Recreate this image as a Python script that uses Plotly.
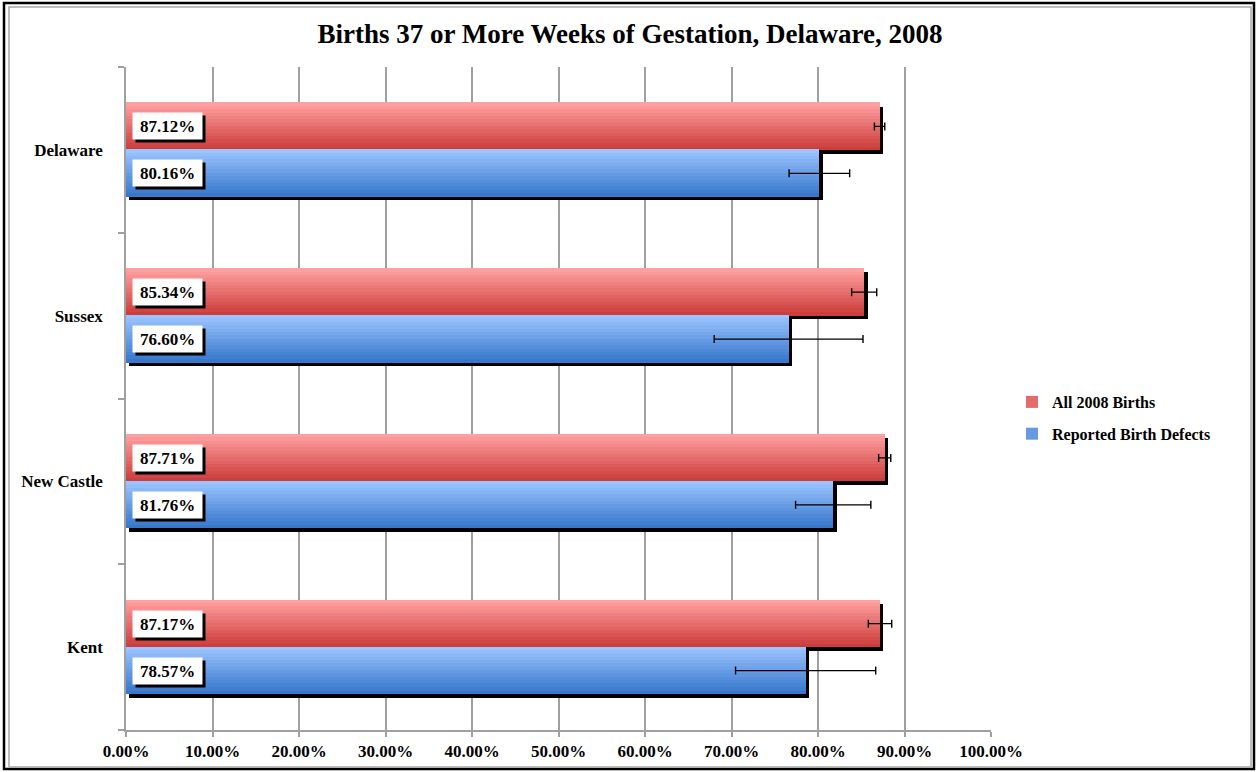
import plotly.graph_objects as go

# ---------------- data ----------------
categories = ["Kent", "New Castle", "Sussex", "Delaware"]
all_births = [87.17, 87.71, 85.34, 87.12]
birth_defects = [78.57, 81.76, 76.60, 80.16]
all_births_err = [1.35, 0.7, 1.45, 0.6]
birth_defects_err = [8.1, 4.35, 8.6, 3.5]
x_ticks = [0, 10, 20, 30, 40, 50, 60, 70, 80, 90, 100]
x_tick_labels = [f"{v:.2f}%" for v in x_ticks]
series_names = ["All 2008 Births", "Reported Birth Defects"]

# ---------------- style / layout constants ----------------
W, H = 1257, 772
L, R, T, B = 126, 266, 67, 42
PW, PH = W - L - R, H - T - B
FONT = "Liberation Serif"
BAR_W = 0.283
SH_DX = 0.40      # shadow offset in x units
SH_DY = 0.022     # shadow offset in y units
NSLICE = 14

red_top, red_bot = (255, 160, 160), (204, 62, 60)
blue_top, blue_bot = (156, 196, 255), (56, 120, 204)


def lerp(c1, c2, t):
    return "rgb(%d,%d,%d)" % tuple(round(a + (b - a) * t) for a, b in zip(c1, c2))


ypos = list(range(len(categories)))
fig = go.Figure()


def add_series(values, top_off, ctop, cbot, name, rank):
    n = len(values)
    # shadow
    fig.add_trace(go.Bar(
        y=ypos, x=values, base=[SH_DX] * n, orientation="h",
        offset=top_off - BAR_W - SH_DY, width=BAR_W,
        marker=dict(color="black", line=dict(width=0)),
        showlegend=False, hoverinfo="skip"))
    step = BAR_W / NSLICE
    for k in range(NSLICE):
        off = top_off - (k + 1) * step
        fig.add_trace(go.Bar(
            y=ypos, x=values, orientation="h",
            offset=off, width=step * 1.15 if k < NSLICE - 1 else step,
            marker=dict(color=lerp(ctop, cbot, k / (NSLICE - 1)), line=dict(width=0)),
            name=f"<b>{name}</b>", legendgroup=name, legendrank=rank,
            showlegend=(k == NSLICE // 2), hoverinfo="skip"))


add_series(all_births, BAR_W, red_top, red_bot, series_names[0], 1)
add_series(birth_defects, 0.0, blue_top, blue_bot, series_names[1], 2)

# error bars
for vals, errs, yoff in [(all_births, all_births_err, BAR_W / 2),
                         (birth_defects, birth_defects_err, -BAR_W / 2)]:
    fig.add_trace(go.Scatter(
        x=vals, y=[p + yoff for p in ypos], mode="markers",
        marker=dict(size=1, color="rgba(0,0,0,0)"),
        error_x=dict(type="data", array=errs, visible=True,
                     color="black", thickness=1.4, width=4),
        showlegend=False, hoverinfo="skip"))

# data labels (white boxes with black shadow)
for vals, yoff in [(all_births, BAR_W / 2), (birth_defects, -BAR_W / 2)]:
    for p, v in zip(ypos, vals):
        fig.add_annotation(
            x=0, y=p + yoff, xref="x", yref="y", text=" ",
            xanchor="left", yanchor="middle", xshift=9, yshift=-3,
            width=65, height=22, showarrow=False, bgcolor="black", borderpad=2,
            font=dict(family=FONT, size=17, color="black"))
        fig.add_annotation(
            x=0, y=p + yoff, xref="x", yref="y", text=f"<b>{v:.2f}%</b>",
            xanchor="left", yanchor="middle", xshift=6, yshift=0,
            width=65, height=22, align="center", valign="middle",
            showarrow=False, bgcolor="white", borderpad=2,
            font=dict(family=FONT, size=17, color="black"))

# frame shapes (pixel -> paper)
def px(xp):
    return (xp - L) / PW


def py(yp):
    return (H - B - yp) / PH


fig.add_shape(type="rect", xref="paper", yref="paper",
              x0=px(4), x1=px(1254), y0=py(769), y1=py(3),
              line=dict(color="black", width=2.5), layer="below")
fig.add_shape(type="rect", xref="paper", yref="paper",
              x0=px(9), x1=px(1251), y0=py(767), y1=py(7),
              line=dict(color="#A8A8A8", width=1.5), layer="below")

fig.update_layout(
    width=W, height=H,
    margin=dict(l=L, r=R, t=T, b=B),
    paper_bgcolor="white", plot_bgcolor="white",
    barmode="overlay", bargap=0,
    title=dict(text="<b>Births 37 or More Weeks of Gestation, Delaware, 2008</b>",
               x=630 / W, xanchor="center", y=1 - 34 / H, yanchor="middle",
               font=dict(family=FONT, size=27, color="black")),
    legend=dict(x=px(1012), y=py(418), xanchor="left", yanchor="middle",
                font=dict(family=FONT, size=16, color="black"),
                itemwidth=30, tracegroupgap=8, bgcolor="rgba(0,0,0,0)",
                traceorder="grouped"),
    font=dict(family=FONT, color="black"),
)

fig.update_xaxes(
    range=[0, 100], tickvals=x_ticks,
    ticktext=[f"<b>{t}</b>" for t in x_tick_labels],
    showgrid=True, gridcolor="#A0A0A0", gridwidth=1.5,
    showline=True, linecolor="#A0A0A0", linewidth=1.5,
    ticks="outside", ticklen=5, tickcolor="#A0A0A0", tickwidth=1.5,
    tickfont=dict(family=FONT, size=17, color="black"),
    zeroline=False, fixedrange=True)

fig.update_yaxes(
    range=[-0.5, len(categories) - 0.5], tickvals=ypos,
    ticktext=[f"<b>{c}</b>" for c in categories],
    showgrid=False, zeroline=False,
    showline=True, linecolor="#A0A0A0", linewidth=1.5,
    ticks="", ticklen=0, ticklabelstandoff=18,
    tickfont=dict(family=FONT, size=17, color="black"),
    minor=dict(tick0=-0.5, dtick=1, ticks="outside", ticklen=6,
               tickcolor="#A0A0A0", tickwidth=1.5, showgrid=False),
    fixedrange=True)

fig.write_html("out.html",
               config={"displayModeBar": False},
               post_script="document.body.style.margin='0px';"
                           "document.body.style.overflow='hidden';")
